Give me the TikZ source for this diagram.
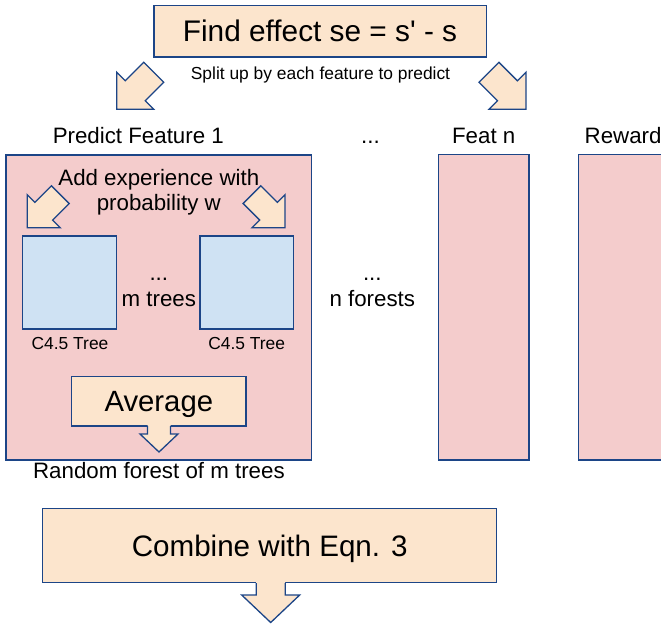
\documentclass[tikz,border=0pt]{standalone}
\usepackage{fontspec}
\setmainfont{Liberation Sans}
\definecolor{peach}{HTML}{FCE5CD}
\definecolor{rose}{HTML}{F4CCCC}
\definecolor{skyblue}{HTML}{CFE2F3}
\definecolor{navy}{HTML}{1C4587}
\newcommand{\fs}[1]{\fontsize{#1}{#1}\selectfont}
\newcommand{\blkarrow}[6]{\draw[blkarr,shift={(#1)},rotate=#2] (0,0) -- (-#4,#5) -- (-#4,#6) -- (-#3,#6) -- (-#3,-#6) -- (-#4,-#6) -- (-#4,-#5) -- cycle;}
\newcommand{\blkdown}[5]{%
	\fill[peach,shift={(#1)}] (0,0) -- (#4,-#3) -- (#5,-#3) -- (#5,-#2-6) -- (-#5,-#2-6) -- (-#5,-#3) -- (-#4,-#3) -- cycle;
	\draw[navy,line width=1.3pt,line join=miter,shift={(#1)}] (-#5,-#2) -- (-#5,-#3) -- (-#4,-#3) -- (0,0) -- (#4,-#3) -- (#5,-#3) -- (#5,-#2);}
\begin{document}
\begin{tikzpicture}[x=1pt,y=-1pt,line join=miter,
		box/.style={draw=navy,line width=1.3pt,inner sep=0pt,text depth=0pt},
		peachbox/.style={box,fill=peach},
		panel/.style={box,fill=rose},
		treebox/.style={box,fill=skyblue},
		blkarr/.style={draw=navy,fill=peach,line width=1.3pt},
		lbl/.style={anchor=base,inner sep=0pt,font=\fs{22.3}},
		small/.style={anchor=base,inner sep=0pt,font=\fs{17.4}}]
	\useasboundingbox (0,0) rectangle (661,624);
	\clip (0,0) rectangle (661,624);
	\node[panel,minimum width=305.7,minimum height=305] (feat1) at (158.9,307.5) {};
	\node[panel,minimum width=90.7,minimum height=305.7] (featn) at (483.7,307.2) {};
	\node[panel,minimum width=100,minimum height=305.7] (reward) at (628.3,307.2) {};
	\node[lbl] (feat1lbl) at (138.3,143.3) {Predict Feature 1};
	\node[lbl] (dotstop) at (370.5,143.3) {...};
	\node[lbl] (featnlbl) at (483.7,143.3) {Feat n};
	\node[lbl,anchor=base west] (rewardlbl) at (584.5,143.3) {Reward};
	\node[peachbox,minimum width=332.3,minimum height=51.7,font=\fs{29.8}] (find) at (320,31) {Find effect se = s\textquotesingle\ - s};
	\node[small] (split) at (320.5,79.3) {Split up by each feature to predict};
	\coordinate (tipL) at (116.7,109.3);
	\coordinate (tipR) at (526,109.3);
	\blkarrow{tipL}{225}{52.4}{26.2}{26.2}{14.1}
	\blkarrow{tipR}{315}{52.4}{26.2}{26.2}{14.1}
	\node[lbl] (addexp) at (158.8,185) {Add experience with};
	\node[lbl] (prob) at (158.8,210) {probability w};
	\coordinate (tipA) at (27.3,227.7);
	\coordinate (tipB) at (285,227.7);
	\blkarrow{tipA}{225}{46.7}{23.3}{23.3}{12.5}
	\blkarrow{tipB}{315}{46.7}{23.3}{23.3}{12.5}
	\node[treebox,minimum width=94,minimum height=93] (tree1) at (69.7,282.5) {};
	\node[treebox,minimum width=93.3,minimum height=93] (tree2) at (246.7,282.5) {};
	\node[small] (tree1lbl) at (70,349.3) {C4.5 Tree};
	\node[small] (tree2lbl) at (246.7,349.3) {C4.5 Tree};
	\node[lbl] (dotsm) at (158.8,280) {...};
	\node[lbl] (mtrees) at (158.8,306.7) {m trees};
	\node[lbl] (dotsn) at (372.3,280) {...};
	\node[lbl] (nforests) at (372.3,306.7) {n forests};
	\node[peachbox,minimum width=174.3,minimum height=49.3,font=\fs{29.3}] (avg) at (158.8,401.3) {Average};
	\coordinate (tipAvg) at (159,452);
	\blkdown{tipAvg}{26}{18}{19}{11.5}
	\node[lbl] (forest) at (158.9,478.3) {Random forest of m trees};
	\node[peachbox,minimum width=454,minimum height=74.4,font=\fs{29.6}] (combine) at (269.7,545.5) {Combine with Eqn. 3};
	\coordinate (tipEnd) at (270.7,622.5);
	\blkdown{tipEnd}{39.5}{27.5}{29}{14.5}
\end{tikzpicture}
\end{document}
